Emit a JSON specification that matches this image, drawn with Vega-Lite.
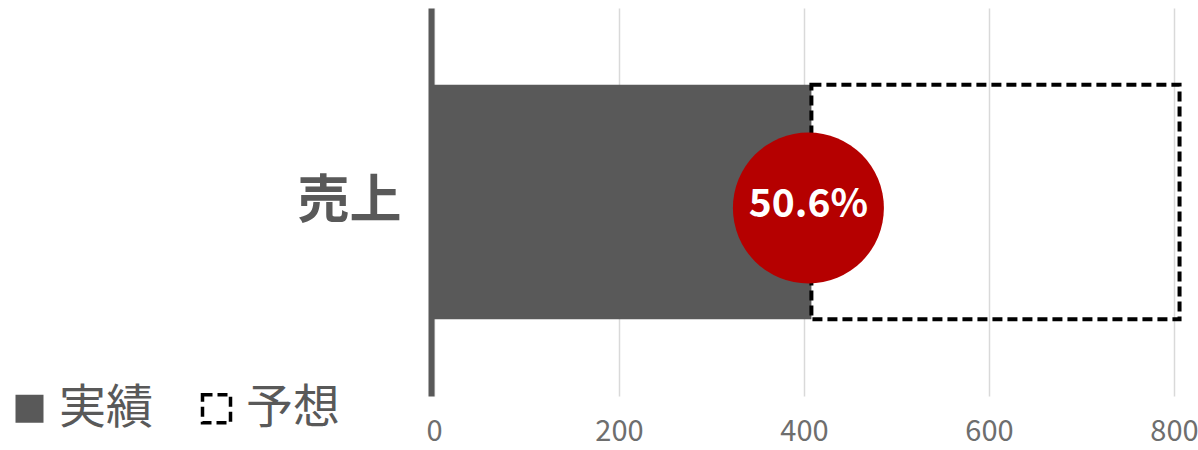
{
  "$schema": "https://vega.github.io/schema/vega-lite/v6.json",
  "width": 740,
  "height": 388,
  "autosize": {"type": "none"},
  "padding": {"left": 434, "top": 8, "right": 24, "bottom": 54},
  "background": "white",
  "config": {
    "view": {"stroke": null},
    "font": "Noto Sans CJK JP"
  },
  "data": {"values": [{"category": "売上", "actual": 408, "forecast": 806, "rate": "50.6%"}]},
  "encoding": {
    "y": {
      "field": "category",
      "type": "nominal",
      "scale": {"paddingInner": 0.395, "paddingOuter": 0.1975},
      "axis": {
        "title": null,
        "domain": true,
        "domainColor": "#595959",
        "domainWidth": 6,
        "offset": 3,
        "ticks": false,
        "grid": false,
        "labelFont": "Noto Sans CJK JP",
        "labelFontSize": 52,
        "labelFontWeight": "bold",
        "labelColor": "#595959",
        "labelPadding": 30
      }
    }
  },
  "layer": [
    {
      "mark": {"type": "bar", "strokeWidth": 4},
      "encoding": {
        "x": {
          "field": "actual",
          "type": "quantitative",
          "scale": {"domain": [0, 800], "nice": false, "zero": true},
          "axis": {
            "title": null,
            "values": [0, 200, 400, 600, 800],
            "domain": false,
            "ticks": false,
            "grid": true,
            "gridColor": "#d9d9d9",
            "gridWidth": 1.5,
            "labelFlush": false,
            "labelFont": "Noto Sans CJK JP",
            "labelFontSize": 29,
            "labelColor": "#6e6e6e",
            "labelPadding": 21
          }
        },
        "fill": {
          "datum": "実績",
          "type": "nominal",
          "scale": {"domain": ["実績", "予想"], "range": ["#595959", "transparent"]},
          "legend": {
            "title": null,
            "orient": "none",
            "direction": "horizontal",
            "legendX": -428,
            "legendY": 377,
            "padding": 0,
            "symbolType": "square",
            "symbolSize": 784,
            "symbolOpacity": 1,
            "symbolStrokeWidth": 3.5,
            "labelFont": "Noto Sans CJK JP",
            "labelFontSize": 47,
            "labelColor": "#595959",
            "labelOffset": 6,
            "columnPadding": 40
          }
        },
        "stroke": {
          "datum": "実績",
          "type": "nominal",
          "scale": {"domain": ["実績", "予想"], "range": ["transparent", "#000000"]}
        },
        "strokeDash": {
          "datum": "実績",
          "type": "nominal",
          "scale": {"domain": ["実績", "予想"], "range": [[1, 0], [10, 5]]}
        }
      }
    },
    {
      "mark": {"type": "bar", "strokeWidth": 4},
      "encoding": {
        "x": {"field": "actual", "type": "quantitative"},
        "x2": {"field": "forecast"},
        "fill": {"datum": "予想", "type": "nominal"},
        "stroke": {"datum": "予想", "type": "nominal"},
        "strokeDash": {"datum": "予想", "type": "nominal"}
      }
    },
    {
      "mark": {"type": "point", "shape": "circle", "filled": true, "color": "#b50000", "opacity": 1, "size": 22800, "xOffset": -3, "yOffset": 6},
      "encoding": {
        "x": {"field": "actual", "type": "quantitative"}
      }
    },
    {
      "mark": {"type": "text", "color": "#ffffff", "font": "Noto Sans CJK JP", "fontSize": 39, "fontWeight": "bold", "align": "center", "baseline": "middle", "xOffset": -3, "yOffset": 3},
      "encoding": {
        "x": {"field": "actual", "type": "quantitative"},
        "text": {"field": "rate"}
      }
    }
  ]
}
